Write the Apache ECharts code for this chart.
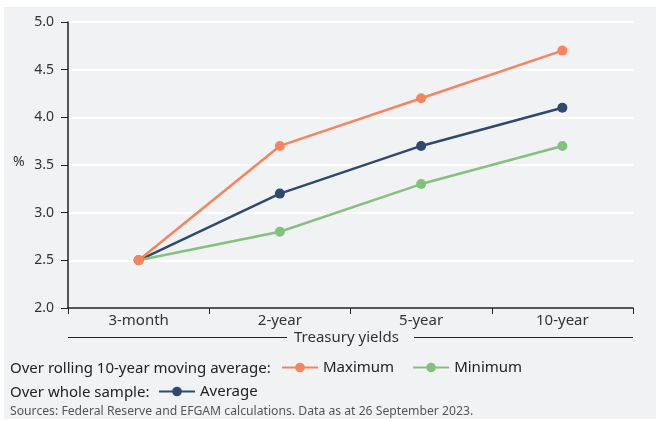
<!DOCTYPE html>
<html>
<head>
<meta charset="utf-8">
<script src="https://cdn.jsdelivr.net/npm/echarts@6/dist/echarts.min.js"></script>
<style>
  html, body { margin: 0; padding: 0; background: #fff; }
  #chart { width: 656px; height: 421px; }
</style>
</head>
<body>
<div id="chart"></div>
<script>
  // treasury yield data
  var categories = ['3-month', '2-year', '5-year', '10-year'];
  var maximumData = [2.5, 3.7, 4.2, 4.7];
  var averageData = [2.5, 3.2, 3.7, 4.1];
  var minimumData = [2.5, 2.8, 3.3, 3.7];

  var font = '"Noto Sans", "Open Sans", sans-serif';
  var txt = '#333';

  var myChart = echarts.init(document.getElementById('chart'));
  var option = {
    backgroundColor: '#fff',
    textStyle: { fontFamily: font },
    grid: { left: 68, right: 23, top: 22, bottom: 113 },
    graphic: [
      { type: 'rect', z: -10, shape: { x: 4, y: 7, width: 652, height: 412 }, style: { fill: '#f1f2f4' } },
      { type: 'text', left: 13, top: 155, style: { text: '%', font: '14px ' + font, fill: txt } },
      { type: 'line', shape: { x1: 68, y1: 337.5, x2: 287, y2: 337.5 }, style: { stroke: '#222', lineWidth: 1 } },
      { type: 'line', shape: { x1: 414, y1: 337.5, x2: 633, y2: 337.5 }, style: { stroke: '#222', lineWidth: 1 } },
      { type: 'text', left: 294, top: 330, style: { text: 'Treasury yields', font: '15px ' + font, fill: txt } },
      { type: 'text', left: 10, top: 361, style: { text: 'Over rolling 10-year moving average:', font: '15px ' + font, fill: '#222' } },
      { type: 'text', left: 10, top: 385, style: { text: 'Over whole sample:', font: '15px ' + font, fill: '#222' } },
      { type: 'text', left: 10, top: 406, style: { text: 'Sources: Federal Reserve and EFGAM calculations. Data as at 26 September 2023.', font: '12.2px ' + font, fill: '#555' } }
    ],
    legend: [
      {
        data: ['Maximum', 'Minimum'],
        left: 276, top: 355,
        itemWidth: 36, itemHeight: 12, itemGap: 18,
        textStyle: { fontSize: 15, color: '#222', fontFamily: font }
      },
      {
        data: ['Average'],
        left: 153, top: 379,
        itemWidth: 36, itemHeight: 12,
        textStyle: { fontSize: 15, color: '#222', fontFamily: font }
      }
    ],
    xAxis: {
      type: 'category',
      data: categories,
      boundaryGap: true,
      axisLine: { lineStyle: { color: '#222', width: 1.5 } },
      axisTick: { show: true, length: 6, lineStyle: { color: '#222' } },
      axisLabel: { fontSize: 15, color: txt, margin: 5 }
    },
    yAxis: {
      type: 'value',
      min: 2, max: 5, interval: 0.5,
      axisLine: { show: true, lineStyle: { color: '#222', width: 1.5 } },
      axisTick: { show: true, length: 7, lineStyle: { color: '#222' } },
      axisLabel: { fontSize: 14, color: txt, margin: 14, formatter: function (v) { return v.toFixed(1); } },
      splitLine: { lineStyle: { color: '#fff', width: 2 } }
    },
    series: [
      {
        name: 'Average', type: 'line', data: averageData,
        symbol: 'circle', symbolSize: 10,
        itemStyle: { color: '#2f4a6e' }, lineStyle: { width: 2.5 }
      },
      {
        name: 'Minimum', type: 'line', data: minimumData,
        symbol: 'circle', symbolSize: 10,
        itemStyle: { color: '#85c17e' }, lineStyle: { width: 2.5 }
      },
      {
        name: 'Maximum', type: 'line', data: maximumData,
        symbol: 'circle', symbolSize: 10,
        itemStyle: { color: '#f6855f' }, lineStyle: { width: 2.5 }
      }
    ]
  };
  myChart.setOption(option);
</script>
</body>
</html>
